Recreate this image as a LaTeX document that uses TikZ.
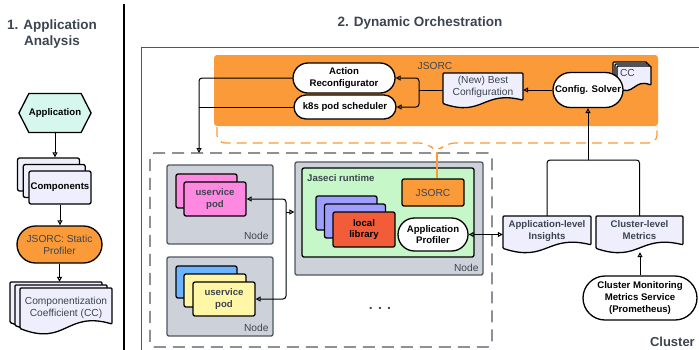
\documentclass[tikz,border=0pt]{standalone}
\usepackage{fontspec}
\setmainfont{Liberation Sans}
\usetikzlibrary{arrows.meta}
\usetikzlibrary{shapes.misc}
\usetikzlibrary{shapes.symbols}

\definecolor{jorange}{HTML}{FA9A38}
\definecolor{txtgray}{HTML}{3D4451}
\definecolor{docfill}{HTML}{EEEEFC}
\definecolor{nodegray}{HTML}{CDD2DA}
\definecolor{boxline}{HTML}{50565F}
\definecolor{rtgreen}{HTML}{C5F7C9}
\definecolor{podpink}{HTML}{FF88E1}
\definecolor{podblue}{HTML}{6CB4FF}
\definecolor{podyellow}{HTML}{FFF7A6}
\definecolor{libpurple}{HTML}{9E9EFF}
\definecolor{libred}{HTML}{F25C38}
\definecolor{appcyan}{HTML}{D6F7EE}

\newcommand{\lblb}{\fontsize{9.6}{11.5}\selectfont\bfseries}
\newcommand{\lblr}{\fontsize{10.2}{12}\selectfont}

% document shape with a wavy bottom: path style, node style, name, x, y, w, h, text
\newcommand{\docnode}[8]{%
  \path[#1] ({#4-#6/2},{#5-#7/2}) -- ({#4+#6/2},{#5-#7/2})
    -- ({#4+#6/2},{#5+0.3*#7}) .. controls ({#4},{#5}) and ({#4},{#5+0.8*#7}) .. ({#4-#6/2},{#5+0.4*#7}) -- cycle;
  \node[#2, minimum width=#6pt, minimum height=#7pt] (#3) at (#4,#5) {#8};}

\begin{document}
\begin{tikzpicture}[x=1pt,y=-1pt]
    \tikzstyle{title} = [font=\fontsize{13.5}{16}\selectfont\bfseries, text=txtgray, align=center, inner sep=0pt]
    \tikzstyle{term} = [rounded rectangle, draw, fill=white, line width=1.3pt, font=\lblb, align=center, inner sep=1pt]
    \tikzstyle{box} = [rectangle, rounded corners=2pt, draw, line width=1.3pt, inner sep=1pt, align=center]
    \tikzstyle{nodebox} = [box, draw=boxline, fill=nodegray]
    \tikzstyle{nodelbl} = [font=\lblr, text=txtgray, inner sep=0pt, anchor=south east]
    \tikzstyle{doc} = [fill=docfill, draw, line width=1.3pt, rounded corners=1pt]
    \tikzstyle{docb} = [inner sep=0pt, align=center, text depth=8pt, font=\lblb, text=txtgray]
    \tikzstyle{docr} = [docb, font=\lblr]
    \tikzstyle{arr} = [draw, line width=1pt, rounded corners=3pt, -{Triangle[open,length=5pt,width=5pt]}]
    \tikzstyle{arr2} = [draw, line width=1pt, {Triangle[open,length=5pt,width=5pt]}-{Triangle[open,length=5pt,width=5pt]}]
    \tikzstyle{link} = [draw, line width=1pt, rounded corners=3pt]
    \useasboundingbox (0,0) rectangle (699,349);
    %% titles and frames
    \node[title] (t1) at (52,34) {1. Application\\Analysis};
    \node[title] (t2) at (420,23) {2. Dynamic Orchestration};
    \draw[line width=1.2pt] (124,4) -- (124,353);
    \draw[draw=boxline, line width=1pt] (141,47) rectangle (706,356);
    \node[title, font=\fontsize{13}{15}\selectfont\bfseries, anchor=south east] (cl) at (695,347) {Cluster};
    %%
    %% 1. application analysis
    \node[signal, signal to=east and west, signal pointer angle=126, draw, line width=1.3pt,
          fill=appcyan, minimum width=69pt, minimum height=39pt, inner sep=0pt, font=\lblb] (app) at (55,113) {Application};
    \node[box, fill=docfill, minimum width=62pt, minimum height=33pt] (compA) at (48.5,174.5) {};
    \node[box, fill=docfill, minimum width=62pt, minimum height=33pt] (compB) at (54.25,181) {};
    \node[box, fill=docfill, minimum width=62pt, minimum height=33pt, font=\lblb] (compC) at (60,187.5) {Components};
    \node[term, fill=jorange, minimum width=87pt, minimum height=37pt, font=\lblr, text=txtgray] (stat) at (59.5,244.5) {JSORC: Static\\Profiler};
    \docnode{doc}{docr}{cc1}{56}{304.5}{92}{45}{}
    \docnode{doc}{docr}{cc2}{61}{307.5}{92}{45}{}
    \docnode{doc}{docr}{cc3}{66}{310.5}{92}{45}{Componentization\\Coefficient (CC)}
    \draw[arr] (app.south) -- (app.south |- compA.north);
    \draw[arr] (compC.south) -- (compC.south |- stat.north);
    \draw[arr] (stat.south) -- (stat.south |- cc1.north);
    %%
    %% JSORC
    \fill[jorange, rounded corners=3pt] (214,55) rectangle (658,126);
    \draw[jorange, line width=1.2pt, dash pattern=on 10pt off 6pt, rounded corners=8pt]
      (217,127) -- (217,143) -- (427,143) -- (437,152) -- (447,143) -- (657,143) -- (657,127);
    \node[font=\lblr, text=txtgray] (jl) at (435,66) {JSORC};
    \docnode{doc}{docr}{ccA}{630}{74}{34}{24}{}
    \docnode{doc}{docr}{ccB}{632}{76}{34}{24}{}
    \docnode{doc}{docr}{ccC}{634}{78}{34}{24}{}
    \node[font=\lblr, text=txtgray, anchor=north west, inner sep=0pt] (cct) at ([shift={(3,3)}]ccC.north west) {CC};
    \node[term, minimum width=72pt, minimum height=35pt] (solver) at (588,90) {Config. Solver};
    \docnode{doc}{docr}{best}{483}{90}{80}{34}{(New) Best\\Configuration}
    \node[term, minimum width=104pt, minimum height=30pt] (ar) at (344,78) {Action\\Reconfigurator};
    \node[term, minimum width=104pt, minimum height=24pt] (k8s) at (345,107) {k8s pod scheduler};
    \coordinate (split) at (419,90);
    \draw[arr] (solver.west) -- (best.east);
    \draw[link] (best.west) -- (split);
    \draw[arr] (split) |- (ar.east);
    \draw[arr] (split) |- (k8s.east);
    %%
    %% nodes of the cluster
    \node[draw=boxline, line width=1.2pt, dash pattern=on 12pt off 7pt, rounded corners=4pt,
          minimum width=342pt, minimum height=194pt] (grp) at (321,250) {};
    \coordinate (drop) at (199,153);
    \draw[arr] (ar.west) -| (drop);
    \draw[link] (k8s.west) -- (k8s.west -| drop);
    \node[nodebox, minimum width=106pt, minimum height=79pt] (n1) at (220,204.5) {};
    \node[nodelbl] at ([shift={(-5,-5)}]n1.south east) {Node};
    \node[box, fill=podpink, minimum width=61pt, minimum height=34pt] (podA1) at (206.5,191) {};
    \node[box, fill=podpink, minimum width=62pt, minimum height=34pt, font=\lblb, text=txtgray] (podA2) at (215,199) {uservice\\pod};
    \node[nodebox, minimum width=106pt, minimum height=79pt] (n2) at (220,296.5) {};
    \node[nodelbl] at ([shift={(-5,-5)}]n2.south east) {Node};
    \node[box, fill=podblue, minimum width=61pt, minimum height=32pt] (podB1) at (206.5,282) {};
    \node[box, fill=podyellow, minimum width=62pt, minimum height=33pt] (podB2) at (215,290.5) {};
    \node[box, fill=podyellow, minimum width=62pt, minimum height=34pt, font=\lblb, text=txtgray] (podB3) at (224,299) {uservice\\pod};
    \node[nodebox, minimum width=188pt, minimum height=113pt] (jn) at (389,218.5) {};
    \node[nodelbl] at ([shift={(-5,-4)}]jn.south east) {Node};
    \node[box, fill=rtgreen, minimum width=172pt, minimum height=89pt] (rt) at (388,212.5) {};
    \node[font=\lblb, text=txtgray, anchor=west, inner sep=0pt] (rtl) at (307,178) {Jaseci runtime};
    \node[box, fill=jorange, minimum width=62pt, minimum height=27pt, font=\lblr, text=txtgray] (jsorc) at (433,192.5) {JSORC};
    \node[box, fill=libpurple, minimum width=61pt, minimum height=34pt] (lib1) at (346.5,213) {};
    \node[box, fill=libpurple, minimum width=61pt, minimum height=34pt] (lib2) at (355,221) {};
    \node[box, fill=libred, minimum width=62pt, minimum height=35pt, font=\lblb] (lib3) at (364,229.5) {local\\library};
    \node[term, minimum width=72pt, minimum height=33pt] (prof) at (433,234.5) {Application\\Profiler};
    \coordinate (tap) at (437,152);
    \draw[jorange, line width=1.5pt] (tap) -- (tap |- jsorc.north);
    \coordinate (bus) at (286,212);
    \draw[arr] (bus) -- (bus -| jn.west);
    \draw[arr] (bus) |- (podA2.east);
    \draw[arr] (bus) |- (podB3.east);
    \node[font=\fontsize{14}{14}\selectfont\bfseries, text=txtgray] (more) at (380,308) {. . .};
    %%
    %% monitoring
    \docnode{doc}{docb}{ins}{547}{234}{88}{36}{Application-level\\Insights}
    \docnode{doc}{docb}{met}{639.5}{234}{87}{36}{Cluster-level\\Metrics}
    \node[term, minimum width=116pt, minimum height=44pt, font=\fontsize{9.6}{12}\selectfont\bfseries] (prom) at (640,298) {Cluster Monitoring\\Metrics Service\\(Prometheus)};
    \coordinate (merge) at (588,160);
    \draw[arr] (prom.north) -- (prom.north |- met.south);
    \draw[arr2] (prof.east) -- (prof.east -| ins.west);
    \draw[link] (ins.north) |- (merge);
    \draw[link] (met.north) |- (merge);
    \draw[arr] (merge) -- (solver.south);
\end{tikzpicture}
\end{document}
